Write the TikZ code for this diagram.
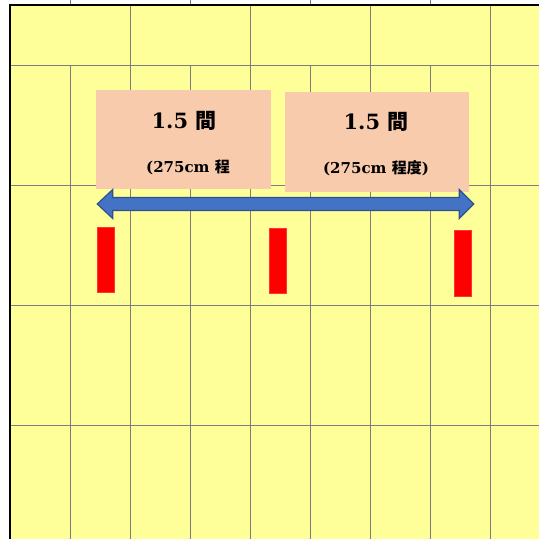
\documentclass[tikz,border=0pt]{standalone}
\usepackage{fontspec}
\setmainfont{DejaVu Serif}
\newfontfamily\cjk{Noto Sans CJK JP}
\definecolor{paper}{RGB}{255,255,153}
\definecolor{gridgray}{RGB}{125,125,125}
\definecolor{boxpink}{RGB}{248,203,173}
\definecolor{arrowblue}{RGB}{68,114,196}
\definecolor{arrowedge}{RGB}{47,82,143}
\tikzset{
  gridline/.style={draw=gridgray, line width=1pt},
  ken/.style={fill=boxpink, inner sep=0pt},
  post/.style={fill=red, draw=red!80!white, line width=0.5pt, inner sep=0pt, minimum width=17pt},
  title/.style={anchor=base, font=\fontsize{21}{25}\selectfont\bfseries},
  sub/.style={anchor=base, font=\fontsize{15}{18}\selectfont\bfseries}
}
\begin{document}
\begin{tikzpicture}[x=1pt, y=-1pt]
\useasboundingbox (0,0) rectangle (539,539);
\fill[paper] (10,5) rectangle (539,539);
\foreach \x in {130,250,370,490} \draw[gridline] (\x,5) -- (\x,539);
\foreach \x in {70,190,310,430} {
  \draw[gridline] (\x,65) -- (\x,539);
  \draw[gridline] (\x,0) -- (\x,5);
}
\foreach \y in {65,185,305,425} \draw[gridline] (10,\y) -- (539,\y);
\draw[black, line width=1.5pt] (10,539) -- (10,5) -- (539,5);
\node[ken, minimum width=175pt, minimum height=99pt] (B_0) at (183.5,139.7) {};
\node[title] (T_0) at (184,128) {1.5 {\cjk 間}};
\node[sub] (S_0) at (188,172) {(275cm {\cjk 程}};
\node[ken, minimum width=184pt, minimum height=99.4pt] (B_1) at (377,142) {};
\node[title] (T_1) at (376,129.5) {1.5 {\cjk 間}};
\node[sub] (S_1) at (376,173) {(275cm {\cjk 程度})};
\filldraw[fill=arrowblue, draw=arrowedge, line width=1.2pt]
  (97.3,204) -- (112.7,189.5) -- (112.7,197.5) -- (459.3,197.5) -- (459.3,189.5)
  -- (473.7,204) -- (459.3,218.5) -- (459.3,210.5) -- (112.7,210.5) -- (112.7,218.5) -- cycle;
\node[post, minimum height=65.5pt] (R_0) at (105.3,259.8) {};
\node[post, minimum height=65.3pt] (R_1) at (277.6,260.6) {};
\node[post, minimum height=65.3pt] (R_2) at (462.8,263.3) {};
\end{tikzpicture}
\end{document}
